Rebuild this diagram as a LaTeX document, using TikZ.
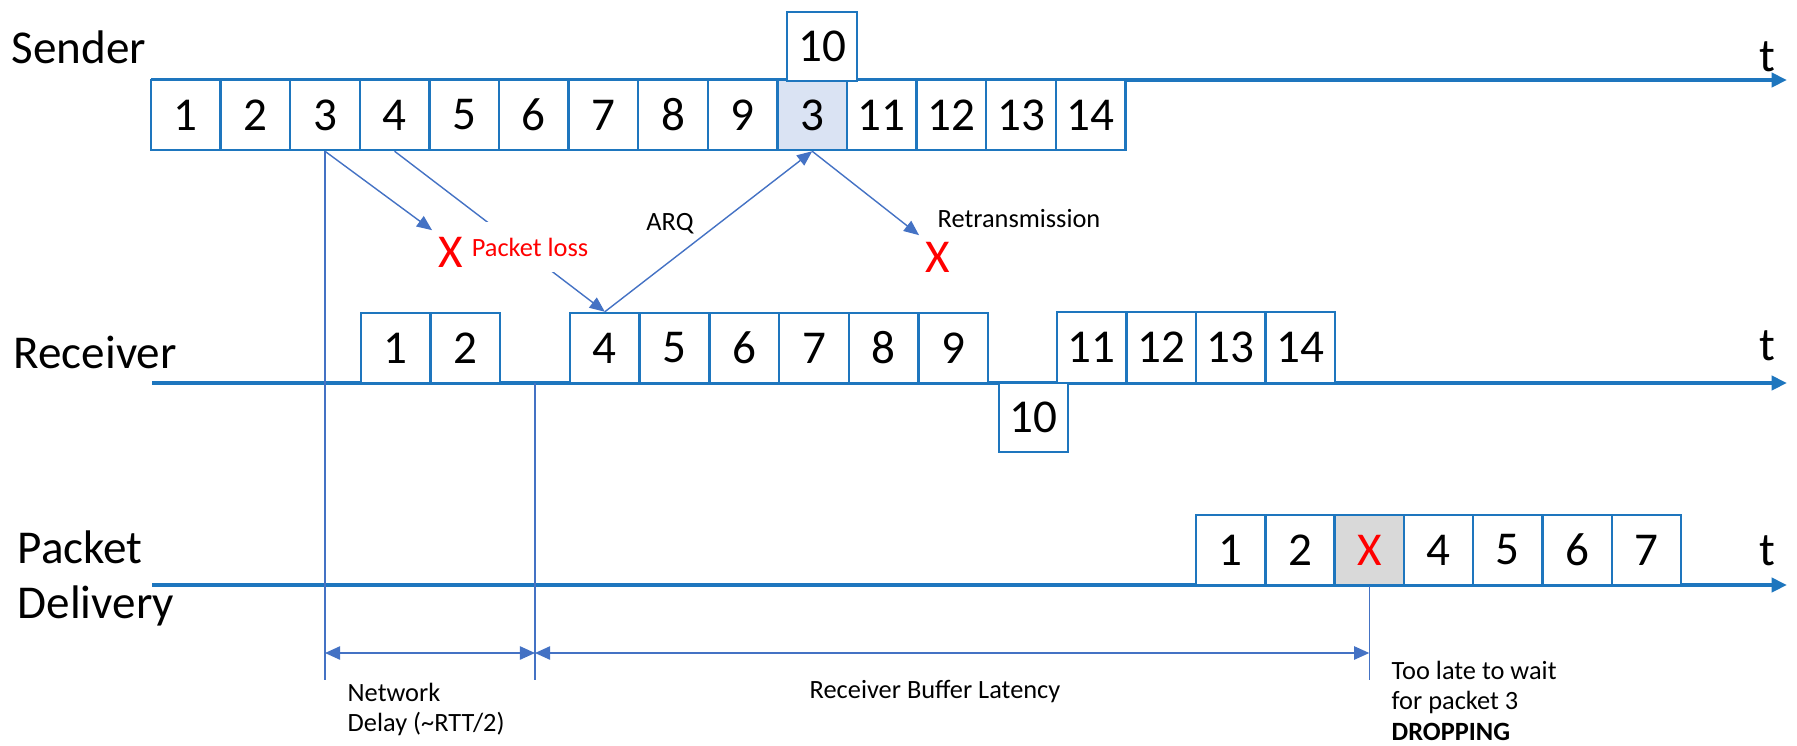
\documentclass[tikz,border=0pt]{standalone}
\usepackage{fontspec}
\setmainfont{Carlito}
\usetikzlibrary{arrows.meta}
\definecolor{axisblue}{RGB}{30,118,190}
\definecolor{lineblue}{RGB}{68,114,196}
\definecolor{shadeblue}{RGB}{218,227,243}
\definecolor{shadegray}{RGB}{217,217,217}
\definecolor{lossred}{RGB}{255,0,0}
\newcommand\BigTxt{\fontsize{13.4}{15.6}\selectfont}
\newcommand\SmallTxt{\fontsize{7.5}{8.8}\selectfont}
\begin{document}
\begin{tikzpicture}[x=0.01cm,y=-0.01cm,
  pkt/.style={draw=axisblue, line width=0.7pt, fill=white, minimum width=0.696cm, minimum height=0.70cm, inner sep=0pt, font=\BigTxt},
  axisline/.style={draw=axisblue, line width=1.1pt, -{Triangle[length=4.4pt,width=4pt]}},
  thinarrow/.style={draw=lineblue, line width=0.4pt, -{Triangle[length=4.3pt,width=3.6pt]}},
  thinline/.style={draw=lineblue, line width=0.4pt},
  dimarrow/.style={draw=lineblue, line width=0.4pt, {Triangle[length=4.3pt,width=3.8pt]}-{Triangle[length=4.3pt,width=3.8pt]}},
  bigtxt/.style={font=\BigTxt, inner sep=0pt},
  smalltxt/.style={font=\SmallTxt, inner sep=0pt},
  lossx/.style={font=\BigTxt, text=lossred, inner sep=0.06cm}
]
\useasboundingbox (0,0) rectangle (1797,745);

% axes
\coordinate (sA) at (151,80);  \coordinate (sB) at (1787,80);
\coordinate (rA) at (152,383); \coordinate (rB) at (1787,383);
\coordinate (dA) at (152,585); \coordinate (dB) at (1787,585);
\draw[axisline] (sA) -- (sB);
\draw[axisline] (rA) -- (rB);
\draw[axisline] (dA) -- (dB);

% row labels
\node[bigtxt, anchor=base west] (lsend) at (11,63) {Sender};
\node[bigtxt, anchor=base west] (lrecv) at (13,368) {Receiver};
\node[bigtxt, anchor=west, align=left] (ldel) at (17,578) {Packet\\Delivery};
\node[bigtxt, anchor=base] (tsend) at (1767,71) {t};
\node[bigtxt, anchor=base] (trecv) at (1767,360) {t};
\node[bigtxt, anchor=base] (tdel) at (1767,565) {t};

% sender boxes
\foreach \i/\l in {1/1,2/2,3/3,4/4,5/5,6/6,7/7,8/8,9/9,11/11,12/12,13/13,14/14}
  \node[pkt] (s\i) at ({151+69.6*(\i-0.5)},115) {\l};
\node[pkt, fill=shadeblue] (s10) at ({151+69.6*9.5},115) {3};
\node[pkt, minimum height=0.69cm] (stop) at (822,46.5) {10};

% receiver boxes
\node[pkt, minimum width=0.695cm] (r1) at (395.75,348) {1};
\node[pkt, minimum width=0.695cm] (r2) at (465.25,348) {2};
\foreach \i/\l in {1/4,2/5,3/6,4/7,5/8,6/9}
  \node[pkt, minimum width=0.697cm] (r\l) at ({570+69.7*(\i-0.5)},348) {\l};
\node[pkt, minimum width=0.69cm, minimum height=0.69cm] (r10) at (1033.5,417.5) {10};
\foreach \i/\l in {1/11,2/12,3/13,4/14}
  \node[pkt, minimum width=0.695cm, minimum height=0.71cm] (r\l) at ({1057+69.5*(\i-0.5)},347.5) {\l};

% delivery boxes
\foreach \i/\l in {1/1,2/2,4/4,5/5,6/6,7/7}
  \node[pkt, minimum width=0.693cm] (d\i) at ({1196+69.3*(\i-0.5)},550) {\l};
\node[pkt, minimum width=0.693cm, fill=shadegray, text=lossred] (d3) at ({1196+69.3*2.5},550) {X};

% vertical guide lines
\coordinate (v1b) at (325,680);
\coordinate (v2t) at (535,383); \coordinate (v2b) at (535,680);
\coordinate (v3b) at (1369.25,680);
\draw[thinline] (s3.south) -- (v1b);
\draw[thinline] (v2t) -- (v2b);
\draw[thinline] (d3.south) -- (v3b);

% dimension arrows
\coordinate (m1) at (325,653); \coordinate (m2) at (535,653); \coordinate (m3) at (1369.25,653);
\draw[dimarrow] (m1) -- (m2);
\draw[dimarrow] (m2) -- (m3);

% loss marks
\node[lossx] (x1) at (451,252) {X};
\node[lossx] (x2) at (938,257) {X};

% packet arrows
\draw[thinarrow] (s3.south) -- (x1.north west);
\draw[thinarrow] (s4.south) -- (r4.north);
\draw[thinarrow] (r4.north) -- (s10.south);
\draw[thinarrow] (s10.south) -- (x2.north west);

% small labels
\node[smalltxt, text=lossred, fill=white, inner xsep=1pt, minimum height=0.49cm] (ploss) at (530,247) {Packet loss};
\node[smalltxt, anchor=base] (arq) at (670,230.5) {ARQ};
\node[smalltxt, anchor=base] (retx) at (1019,227.5) {Retransmission};
\node[smalltxt, anchor=north west, align=left] (netd) at (347,682) {Network\\Delay (\textasciitilde RTT/2)};
\node[smalltxt, anchor=base] (rbl) at (935,698.5) {Receiver Buffer Latency};
\node[smalltxt, anchor=north west, align=left] (late) at (1391,660) {Too late to wait\\for packet 3\\\textbf{DROPPING}};
\end{tikzpicture}
\end{document}
